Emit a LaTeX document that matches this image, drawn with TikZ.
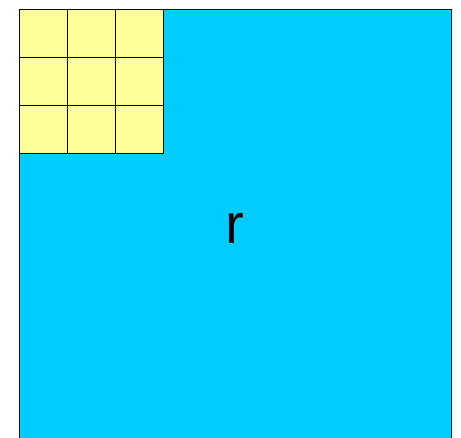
\documentclass[tikz,border=0pt]{standalone}
\usepackage{fontspec}
\setmainfont{Liberation Sans}
\usepackage{xcolor}
\usepackage{tikz}
\usetikzlibrary{positioning, calc}
\definecolor{regionblue}{HTML}{00CCFF}
\definecolor{cellyellow}{HTML}{FFFF99}
\tikzset{
  regionbox/.style={
    rectangle, draw=black, fill=regionblue,
    line width=0.8pt, inner sep=0pt, outer sep=0pt,
    minimum width=432*0.75pt, minimum height=432*0.75pt
  },
  gridcell/.style={
    rectangle, draw=black, fill=cellyellow,
    line width=0.8pt, inner sep=0pt, outer sep=0pt,
    minimum width=48*0.75pt, minimum height=48*0.75pt
  },
  regionlabel/.style={
    font=\fontsize{42}{48}\selectfont, inner sep=0pt
  }
}

\begin{document}
\begin{tikzpicture}[x=0.75pt, y=-0.75pt]

  \useasboundingbox (0,0) rectangle (461,438);
  \clip (0,0) rectangle (461,438);

  % ── Region ─────────────────────────────────────────────
  \node[regionbox, anchor=north west] (region) at (19.5,9.5) {};
  \node[regionlabel] (r) at (235,228) {r};

  % ── 3x3 grid in the corner ─────────────────────────────
  \foreach \row in {0,1,2} {
    \foreach \col in {0,1,2} {
      \node[gridcell, anchor=north west] (cell\row\col)
        at ($(region.north west)+(48*\col,48*\row)$) {};
    }
  }

\end{tikzpicture}
\end{document}
